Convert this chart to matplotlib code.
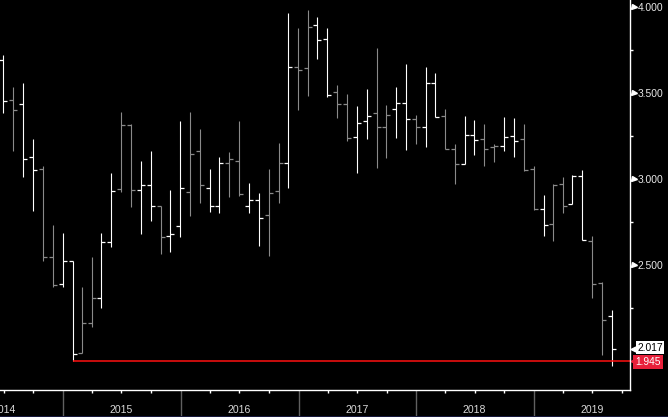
import numpy as np
import pandas as pd
import matplotlib
matplotlib.use("Agg")
import matplotlib.pyplot as plt
import matplotlib.dates as mdates
from matplotlib.lines import TICKLEFT, TICKRIGHT
from datetime import datetime

# monthly bars, Jun 2014 .. Aug 2019 (plotted at month end)
months = (pd.date_range("2014-07-01", periods=63, freq="MS") - pd.Timedelta(days=1)).to_pydatetime()

opens = [3.689, 3.459, 3.434, 3.128, 3.059, 2.546, 2.390, 2.523, 1.990, 2.164, 2.309, 2.633,
         2.941, 3.312, 2.937, 2.968, 2.842, 2.672, 2.728, 2.923, 3.163, 2.950, 2.846, 3.093,
         3.103, 2.842, 2.877, 2.793, 2.933, 3.093, 3.648, 3.646, 3.896, 3.811, 3.503, 3.437,
         3.246, 3.337, 3.382, 3.300, 3.405, 3.441, 3.347, 3.302, 3.556, 3.364, 3.176, 3.086,
         3.254, 3.231, 3.184, 3.190, 3.250, 3.234, 3.059, 2.827, 2.741, 2.972, 2.854, 3.016,
         2.643, 2.397, 2.206]
highs = [3.720, 3.532, 3.559, 3.233, 3.076, 2.734, 2.689, 2.527, 2.376, 2.550, 2.689, 3.034,
         3.389, 3.318, 3.105, 3.161, 2.842, 2.937, 3.335, 3.389, 3.291, 3.057, 3.126, 3.155,
         3.339, 2.977, 2.918, 3.059, 3.208, 3.962, 3.876, 3.983, 3.940, 3.875, 3.544, 3.495,
         3.424, 3.523, 3.760, 3.430, 3.534, 3.669, 3.370, 3.652, 3.617, 3.405, 3.204, 3.366,
         3.341, 3.318, 3.202, 3.360, 3.353, 3.318, 3.076, 2.908, 2.972, 3.012, 3.024, 3.051,
         2.668, 2.401, 2.241]
lows = [3.385, 3.165, 3.010, 2.813, 2.527, 2.372, 2.372, 1.945, 1.990, 2.140, 2.254, 2.604,
        2.927, 2.840, 2.682, 2.757, 2.567, 2.577, 2.666, 2.786, 2.860, 2.809, 2.805, 2.898,
        2.904, 2.805, 2.612, 2.554, 2.863, 2.950, 3.401, 3.484, 3.698, 3.478, 3.356, 3.223,
        3.034, 3.234, 3.066, 3.124, 3.240, 3.171, 3.205, 3.188, 3.358, 3.175, 2.970, 3.086,
        3.142, 3.078, 3.101, 3.161, 3.126, 3.050, 2.822, 2.670, 2.643, 2.805, 2.854, 2.645,
        2.312, 1.981, 1.916]
closes = [3.453, 3.403, 3.115, 3.055, 2.546, 2.384, 2.523, 1.984, 2.164, 2.309, 2.635, 2.933,
          3.312, 2.937, 2.964, 2.842, 2.662, 2.682, 2.948, 3.146, 2.964, 2.846, 3.093, 3.115,
          2.912, 2.880, 2.773, 2.921, 3.093, 3.650, 3.635, 3.881, 3.807, 3.490, 3.437, 3.237,
          3.324, 3.368, 3.300, 3.372, 3.441, 3.350, 3.302, 3.556, 3.358, 3.176, 3.086, 3.254,
          3.225, 3.176, 3.190, 3.246, 3.221, 3.054, 2.827, 2.732, 2.968, 2.842, 3.016, 2.645,
          2.393, 2.183, 2.017]
# 1 = bar drawn white, 0 = bar drawn grey
bar_group = [1, 0, 1, 1, 0, 0, 1, 1, 0, 0, 1, 1,
             0, 0, 1, 1, 0, 1, 1, 0, 0, 1, 1, 0,
             0, 1, 1, 0, 0, 1, 0, 0, 1, 1, 0, 0,
             1, 1, 0, 0, 1, 1, 0, 1, 1, 0, 0, 1,
             1, 0, 0, 1, 1, 0, 0, 1, 0, 0, 1, 1,
             0, 0, 1]

last_value = 2.017
support_level = 1.945
years = [2014, 2015, 2016, 2017, 2018, 2019]
y_ticks = [2.5, 3.0, 3.5, 4.0]

W, H = 668, 417
fig = plt.figure(figsize=(W / 100, H / 100), dpi=100, facecolor="black")
ax = fig.add_axes([0, 27 / H, 630 / W, 390 / H], facecolor="black")

grey = "#8a8a8a"
group = np.array(bar_group)
m = np.array(months)
o, h, l, c = map(np.array, (opens, highs, lows, closes))
for g, col in ((1, "white"), (0, grey)):
    sel = group == g
    ax.vlines(m[sel], l[sel], h[sel], color=col, lw=0.8)
    ax.plot(m[sel], o[sel], ls="none", marker=TICKLEFT, ms=3.2, mew=0.9, color=col)
    ax.plot(m[sel], c[sel], ls="none", marker=TICKRIGHT, ms=3.2, mew=0.9, color=col)

x_right = datetime(2019, 10, 26)
start = months[int(np.argmin(lows[:-1]))]
ax.hlines(support_level, start, x_right, color="#ff1010", lw=1.1)

ax.set_xlim(datetime(2014, 6, 19, 12), x_right)
ax.set_ylim(1.777, 4.039)

for s in ("top", "left"):
    ax.spines[s].set_visible(False)
for s in ("bottom", "right"):
    ax.spines[s].set_color("white")
    ax.spines[s].set_linewidth(1.0)

# x axis: year separators + quarter ticks
ax.xaxis.set_major_locator(mdates.YearLocator())
ax.xaxis.set_minor_locator(mdates.MonthLocator(bymonth=[4, 7, 10]))
ax.xaxis.set_major_formatter(plt.NullFormatter())
ax.tick_params(axis="x", which="major", length=19.5, width=1.0, color="#606060")
ax.tick_params(axis="x", which="minor", length=2.2, width=1.0, color="white")
for yr in years:
    ax.text(datetime(yr, 7, 1), -20 / 390, str(yr), transform=ax.get_xaxis_transform(),
            ha="center", va="center", color="#d8d8d8", fontsize=7.6,
            family="Liberation Sans")

# y axis on the right
ax.yaxis.tick_right()
ax.set_yticks(y_ticks)
ax.set_yticklabels([f"{v:.3f}" for v in y_ticks], family="Liberation Sans")
ax.set_yticks([2.25, 2.75, 3.25, 3.75], minor=True)
ax.tick_params(axis="y", which="major", length=0, pad=5.6, labelcolor="#e8e8e8", labelsize=7.4)
ax.tick_params(axis="y", which="minor", length=2, width=1.0, color="white")
ax.plot([1.0056] * len(y_ticks), y_ticks, ls="none", marker=">", ms=3.6, color="white",
        transform=ax.get_yaxis_transform(), clip_on=False)

# last value / support labels
ytr = ax.get_yaxis_transform()
ax.plot([1.004], [last_value], ls="none", marker="<", ms=3.5, color="white", transform=ytr, clip_on=False)
ax.text(1.0115, last_value + 0.004, f"{last_value:.3f}", transform=ytr, ha="left", va="center",
        color="black", fontsize=7.4, family="Liberation Sans",
        bbox=dict(boxstyle="square,pad=0.15", fc="white", ec="none"))
ax.plot([1.004], [support_level], ls="none", marker="<", ms=3.5, color="#e8203a", transform=ytr, clip_on=False)
ax.text(1.0085, support_level - 0.006, f"{support_level:.3f}", transform=ytr, ha="left", va="center",
        color="white", fontsize=7.4, family="Liberation Sans",
        bbox=dict(boxstyle="square,pad=0.2", fc="#e8203a", ec="none"))

fig.add_artist(plt.Rectangle((0, 0), 1, 1.5 / H, transform=fig.transFigure,
                             color="#16183c", lw=0))

fig.savefig("out.png", dpi=100, facecolor="black")
